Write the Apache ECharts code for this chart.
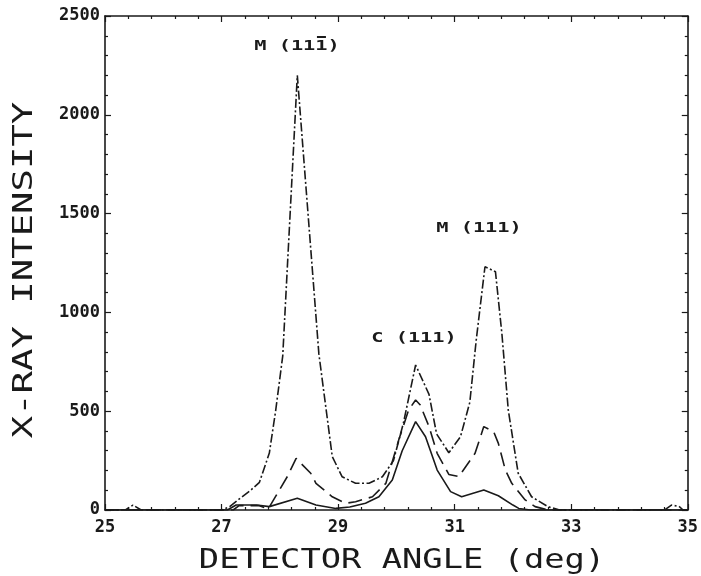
<!DOCTYPE html>
<html>
<head>
<meta charset="utf-8">
<script src="https://cdn.jsdelivr.net/npm/echarts@6/dist/echarts.min.js"></script>
<style>
html,body{margin:0;padding:0;background:#fff;}
#chart{width:701px;height:576px;}
</style>
</head>
<body>
<div id="chart"></div>
<script>
// ---- data ----
const xTicks = [25, 27, 29, 31, 33, 35];
const yTicks = [0, 500, 1000, 1500, 2000, 2500];

// dash-dot curve (highest)
const curveDashDot = [
  [25.0,0],[25.35,0],[25.48,25],[25.62,0],[27.0,0],[27.14,17],[27.3,55],[27.5,100],[27.65,140],
  [27.82,288],[27.93,506],[28.05,780],[28.3,2200],[28.67,790],[28.9,270],[29.07,168],
  [29.3,135],[29.53,135],[29.76,168],[29.95,250],[30.12,439],[30.33,734],[30.56,585],
  [30.69,385],[30.9,290],[31.1,371],[31.26,545],[31.37,860],[31.52,1231],[31.7,1206],
  [31.81,894],[31.92,506],[32.09,186],[32.32,67],[32.6,17],[32.8,0],[34.6,0],[34.72,25],
  [34.85,18],[34.92,0],[35.0,0]
];
// long-dashed curve (middle)
const curveDashed = [
  [25.0,0],[27.2,0],[27.3,22],[27.65,22],[27.8,5],[27.91,60],[28.13,170],[28.28,261],[28.53,186],
  [28.62,135],[28.9,67],[29.13,34],[29.3,42],[29.59,67],[29.82,135],[30.04,354],
  [30.21,506],[30.33,557],[30.41,531],[30.56,422],[30.7,287],[30.9,180],[31.07,169],
  [31.35,287],[31.5,422],[31.67,396],[31.75,337],[31.87,202],[31.98,135],[32.21,51],
  [32.38,17],[32.6,0],[35.0,0]
];
// solid curve (lowest)
const curveSolid = [
  [25.0,0],[27.1,0],[27.25,25],[27.6,25],[27.82,17],[28.3,59],[28.62,25],[28.96,8],
  [29.2,15],[29.47,34],[29.7,67],[29.93,152],[30.1,300],[30.33,447],[30.5,371],
  [30.7,202],[30.93,93],[31.12,67],[31.5,101],[31.75,72],[32.0,25],[32.1,8],[32.3,0],[35.0,0]
];

const peakLabels = ['M (111)', 'C (111)', 'M (111)'];
const xTitle = 'DETECTOR ANGLE (deg)';
const yTitle = 'X-RAY INTENSITY';

// ---- chart ----
const ink = '#1a1a1a';
const tickFont = 'DejaVu Sans Mono';
const chart = echarts.init(document.getElementById('chart'));

const axisCommon = {
  axisLine: {show: true, onZero: false, lineStyle: {color: ink, width: 1.6}},
  axisTick: {show: true, inside: true, length: 6, lineStyle: {color: ink, width: 1.2}},
  minorTick: {show: true, splitNumber: 5, length: 3, lineStyle: {color: ink, width: 1.2}},
  splitLine: {show: false}
};

const lblScale = 1.45;
const lblFont = 'bold 14px DejaVu Sans Mono';
const charW = 14 * 0.602 * lblScale;
const lbl0X = 297;
const barCenter = lbl0X - 3.5 * charW + 5.5 * charW;

chart.setOption({
  animation: false,
  backgroundColor: '#fff',
  grid: {left: 105, right: 11, top: 16, bottom: 66},
  xAxis: [
    Object.assign({
      type: 'value', min: xTicks[0], max: xTicks[xTicks.length - 1], interval: 2,
      position: 'bottom',
      axisLabel: {show: true, margin: 9, color: ink, fontFamily: tickFont, fontWeight: 'bold', fontSize: 17,
        formatter: v => xTicks.includes(v) ? String(v) : ''}
    }, axisCommon),
    Object.assign({
      type: 'value', min: xTicks[0], max: xTicks[xTicks.length - 1], interval: 2,
      position: 'top', axisLabel: {show: false}
    }, axisCommon)
  ],
  yAxis: [
    Object.assign({
      type: 'value', min: yTicks[0], max: yTicks[yTicks.length - 1], interval: 500,
      position: 'left',
      axisLabel: {show: true, margin: 5, color: ink, fontFamily: tickFont, fontWeight: 'bold', fontSize: 17,
        formatter: v => yTicks.includes(v) ? String(v) : ''}
    }, axisCommon),
    Object.assign({
      type: 'value', min: yTicks[0], max: yTicks[yTicks.length - 1], interval: 500,
      position: 'right', axisLabel: {show: false}
    }, axisCommon)
  ],
  series: [
    {type: 'line', data: curveDashDot, showSymbol: false, symbol: 'none', z: 3,
     lineStyle: {color: ink, width: 1.6, type: [9, 2.5, 2, 2.5]}},
    {type: 'line', data: curveDashed, showSymbol: false, symbol: 'none', z: 3,
     lineStyle: {color: ink, width: 1.6, type: [14, 7]}},
    {type: 'line', data: curveSolid, showSymbol: false, symbol: 'none', z: 3,
     lineStyle: {color: ink, width: 1.6, type: 'solid'}}
  ],
  graphic: [
    {type: 'text', x: lbl0X, y: 46, scaleX: lblScale,
     style: {text: peakLabels[0], fill: ink, font: lblFont, textAlign: 'center', textVerticalAlign: 'middle'}},
    {type: 'line', shape: {x1: barCenter - 4.5, y1: 37, x2: barCenter + 4.5, y2: 37},
     style: {stroke: ink, lineWidth: 2}},
    {type: 'text', x: 414, y: 338, scaleX: lblScale,
     style: {text: peakLabels[1], fill: ink, font: lblFont, textAlign: 'center', textVerticalAlign: 'middle'}},
    {type: 'text', x: 479, y: 228, scaleX: lblScale,
     style: {text: peakLabels[2], fill: ink, font: lblFont, textAlign: 'center', textVerticalAlign: 'middle'}},
    {type: 'text', x: 402, y: 561, scaleX: 1.25,
     style: {text: xTitle, fill: ink, font: '27px DejaVu Sans Mono', textAlign: 'center', textVerticalAlign: 'middle'}},
    {type: 'text', x: 25, y: 270, rotation: Math.PI / 2, scaleX: 1.38,
     style: {text: yTitle, fill: ink, font: '27px DejaVu Sans Mono', textAlign: 'center', textVerticalAlign: 'middle'}}
  ]
});
</script>
</body>
</html>
